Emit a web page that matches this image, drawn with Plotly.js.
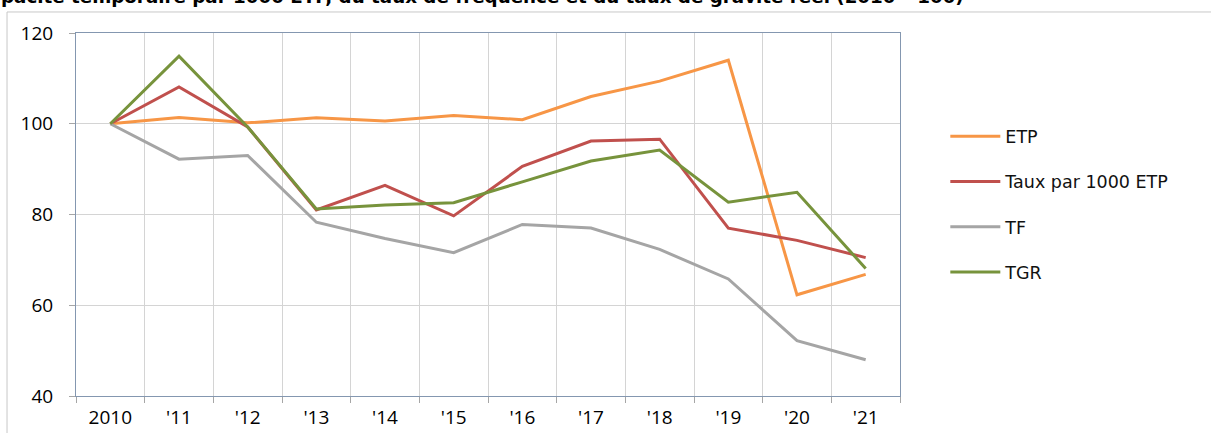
<!DOCTYPE html>
<html><head><meta charset="utf-8">
<script src="https://cdn.plot.ly/plotly-3.0.1.min.js"></script>
<style>html,body{margin:0;padding:0;background:#fff}#c{width:1211px;height:433px}</style>
</head><body><div id="c"></div>
<script>
const years = ["2010","'11","'12","'13","'14","'15","'16","'17","'18","'19","'20","'21"];
const etp  = [100, 101.4, 100.2, 101.3, 100.6, 101.8, 100.9, 106.0, 109.4, 114.0, 62.3, 66.8];
const taux = [100, 108.1, 99.3, 81.0, 86.4, 79.7, 90.6, 96.2, 96.6, 77.0, 74.3, 70.5];
const tf   = [100, 92.2, 93.0, 78.3, 74.7, 71.6, 77.8, 77.0, 72.3, 65.8, 52.2, 48.0];
const tgr  = [100, 114.9, 99.3, 81.2, 82.1, 82.6, 87.2, 91.8, 94.2, 82.7, 84.9, 68.1];
const names = ["ETP","Taux par 1000 ETP","TF","TGR"];
const colors = ["#F79646","#C0504D","#A5A5A5","#77933C"];
const series = [etp, taux, tf, tgr];
const titleText = "pacité temporaire par 1000 ETP, du taux de fréquence et du taux de gravité réel (2010 =100)";

const traces = series.map((s,i)=>({
  x: years, y: s, type:'scatter', mode:'lines', name: names[i],
  line:{color:colors[i], width:3}, legendgroup:'g'+i
}));

const layout = {
  width:1211, height:433,
  margin:{l:76, r:311, t:33, b:37},
  paper_bgcolor:'#fff', plot_bgcolor:'#fff',
  font:{family:'"DejaVu Sans", sans-serif', color:'#000'},
  showlegend:true,
  legend:{x:1.055, y:0.7645, xanchor:'left', yanchor:'top', font:{size:17.5, family:'"DejaVu Sans", sans-serif', color:'#111'},
          traceorder:'grouped', tracegroupgap:19.5, itemwidth:50, bgcolor:'rgba(0,0,0,0)'},
  xaxis:{type:'category', range:[-0.5, 11.5], tickson:'boundaries', showgrid:true, gridcolor:'#d4d4d4', gridwidth:1,
         ticks:'outside', ticklen:6, tickcolor:'#a6a6a6', showline:true, linecolor:'#8497b0', linewidth:1, mirror:true,
         ticklabelstandoff:4,
         tickfont:{size:19, family:'"Open Sans", sans-serif', color:'#000'}, fixedrange:true, zeroline:false},
  yaxis:{range:[40,120], dtick:20, tick0:40, showgrid:true, gridcolor:'#d4d4d4', gridwidth:1,
         ticks:'outside', ticklen:6, tickcolor:'#a6a6a6', showline:true, linecolor:'#8497b0', linewidth:1, mirror:true,
         ticklabelstandoff:12,
         tickfont:{size:19, family:'"Open Sans", sans-serif', color:'#000'}, zeroline:false},
  annotations:[{text:'<b>'+titleText+'</b>', xref:'paper', yref:'paper', x:-0.094, y:1.1019, xanchor:'left', yanchor:'middle',
                showarrow:false, font:{size:18.3, family:'"DejaVu Sans", sans-serif', color:'#000'}}],
  shapes:[
    {type:'line', xref:'paper', yref:'paper', x0:-0.0837, x1:-0.0837, y0:-0.2, y1:1.0579, line:{color:'#c8c8c8', width:1}},
    {type:'line', xref:'paper', yref:'paper', x0:-0.0837, x1:1.5, y0:1.0579, y1:1.0579, line:{color:'#c8c8c8', width:1}}
  ]
};
Plotly.newPlot('c', traces, layout, {displayModeBar:false, staticPlot:true});
</script></body></html>
